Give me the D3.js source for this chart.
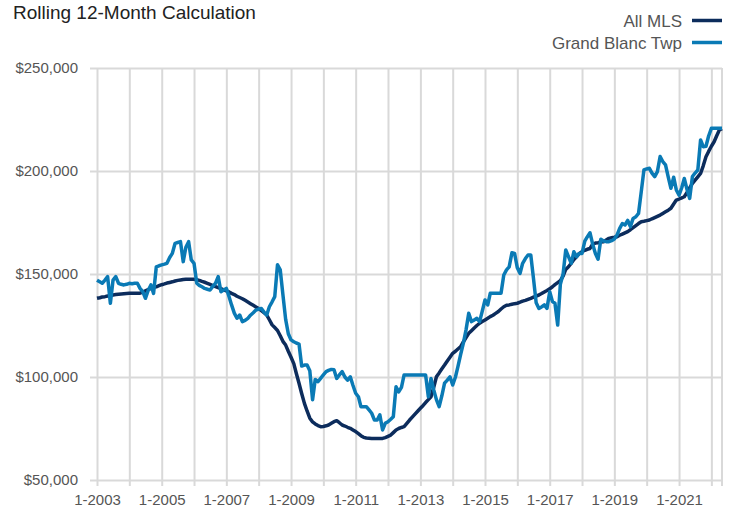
<!DOCTYPE html>
<html>
<head>
<meta charset="utf-8">
<script src="https://cdn.jsdelivr.net/npm/d3@7"></script>
<style>
  body { margin: 0; background: #fff; }
  svg { display: block; font-family: 'Liberation Sans', Arial, sans-serif; }
</style>
</head>
<body>
<svg></svg>
<script>
// monthly values in $ thousands, Jan 2003 .. May 2022
const startYear = 2003

const allMls = [
  138.2, 138.5, 138.8, 139, 139.3, 139.5, 139.8, 140, 140.2, 140.3, 140.4, 140.5,
  140.6, 140.6, 140.6, 140.6, 140.7, 141.2, 141.8, 142.4, 143, 143.5, 143.8, 144.3,
  144.8, 145.2, 145.6, 145.9, 146.2, 146.6, 146.9, 147.1, 147.3, 147.4, 147.4, 147.4,
  147.4, 147.2, 146.9, 146.4, 146, 145.5, 145, 144.4, 143.9, 143.4, 142.9, 142.3,
  141.8, 141.3, 140.6, 140, 139.2, 138.6, 138, 137.2, 136.4, 135.6, 134.8, 134,
  133.2, 132.2, 131.2, 130.1, 127.8, 125.3, 124, 122.6, 120, 117.3, 115.5, 112.5,
  109.6, 106.5, 101.8, 97, 92, 87.2, 83.5, 80, 78.2, 77.2, 76.4, 75.9,
  76, 76.3, 76.7, 77.5, 78.3, 78.8, 77.8, 76.7, 76.2, 75.6, 75.1, 74.3,
  73.5, 72.5, 71.5, 70.7, 70.4, 70.3, 70.2, 70.2, 70.2, 70.2, 70.2, 70.6,
  71.2, 71.8, 73, 74.3, 75, 75.5, 75.9, 77.5, 79.1, 80.5, 82, 83.4,
  84.8, 86.2, 87.6, 89, 90.4, 95, 100.1, 102, 104, 105.8, 107.8, 109.6,
  111.5, 112.5, 113.6, 114.7, 117, 119.1, 121.2, 122.5, 123.8, 125, 126.1, 126.9,
  127.7, 128.5, 129.3, 130, 130.9, 131.8, 133, 134.1, 134.8, 135, 135.3, 135.6,
  135.8, 136.3, 136.8, 137.2, 137.7, 138.2, 138.8, 139.3, 139.8, 140.5, 141.3, 142,
  142.8, 143.8, 144.8, 145.8, 146.8, 149, 152.2, 153.5, 155.2, 157, 158.5, 160,
  160.8, 161.5, 162, 162.4, 164.5, 165, 165.2, 165.5, 165.7, 166.5, 167.3, 167.6,
  167.8, 168.1, 168.8, 169.4, 170, 170.6, 171.5, 172.5, 173.5, 174.5, 175.4, 175.6,
  175.9, 176.2, 176.8, 177.4, 178, 178.6, 179.4, 180.2, 181, 181.9, 184, 185.9,
  186.4, 187, 187.5, 189.6, 191.8, 194, 195.6, 197.2, 198.8, 202.5, 206.9, 209.5,
  212, 214.2, 217, 219.9, 220.5
]

const grandBlanc = [
  147, 146.2, 145.5, 147, 148.7, 135.8, 147, 148.7, 145.5, 145, 144.7, 145,
  145.5, 145.3, 145.5, 145.5, 143, 141.4, 138.2, 142, 144.7, 140.6, 153.5, 154,
  154.4, 154.8, 155.2, 158, 160, 164.9, 165.3, 165.7, 156, 163, 165.7, 156.8,
  155.2, 145.5, 144.5, 143.8, 143, 142.6, 142.2, 144, 145.5, 148.7, 141.4, 142.2,
  143, 139, 135, 131, 128.5, 130.1, 126.9, 127.5, 128.5, 130, 131.2, 132.5,
  133, 133.3, 131.5, 130.1, 134.1, 136.5, 139, 154.5, 152, 140, 128, 121,
  118, 117.1, 116.5, 116, 105.3, 105.8, 105.8, 103, 89, 98.8, 97.7, 99.3,
  101, 102.6, 103.2, 103.7, 103.5, 99.3, 101, 102.6, 100, 98.5, 100.1, 96,
  92.1, 90.4, 85.6, 85.6, 85.6, 84, 82.4, 79.1, 79.1, 81.6, 74.3, 77.5,
  78.3, 79.5, 80.7, 95.3, 92.8, 95, 101, 101, 101, 101, 101, 101,
  101, 101, 101, 90.4, 99.3, 93.7, 89, 85.6, 91, 97, 98.5, 100.1,
  96.1, 100, 105, 111, 116.3, 123, 130.9, 126.9, 127.7, 128.5, 126.9, 132,
  137.4, 135, 140.6, 140.6, 140.6, 140.6, 140.6, 149.5, 152, 153.5, 160.3, 160,
  153, 150.3, 155.2, 157.5, 159.2, 159.2, 148, 136, 133.3, 134, 135, 133.3,
  141.4, 136.6, 135.8, 125.2, 145, 150, 161.7, 158.4, 155.2, 160.8, 158.4, 160,
  160, 166, 168, 170, 164.5, 160, 157.2, 166.9, 166, 165.7, 165.7, 166.2,
  167, 169, 172, 174.5, 173.8, 176, 173, 177, 177.8, 179.4, 190, 200.5,
  201, 201.3, 199, 197.3, 199.7, 207, 204.6, 203, 197, 191.6, 197, 190.8,
  188.3, 192, 196.4, 191, 186.7, 197.3, 199, 200.5, 215.1, 211.8, 212, 217,
  220.7, 220.7, 220.7, 220.7, 220.7
]

const seriesNames = ['All MLS', 'Grand Blanc Twp']
const seriesColors = ['#0c2c5c', '#0a7ab5']
const yTicks = [50, 100, 150, 200, 250]

window.onload = init

function init() {
  const width = 732
  const height = 515
  const left = 97
  const right = 722
  const top = 68
  const bottom = 480

  const svg = d3.select('svg')
    .attr('width', width)
    .attr('height', height)

  const dates = allMls.map((d, i) => new Date(startYear, i, 1))

  const x = d3.scaleTime()
    .domain([dates[0], dates[dates.length - 1]])
    .range([left, right])

  const y = d3.scaleLinear()
    .domain([50, 250])
    .range([bottom, top])

  const years = d3.timeYear.range(new Date(startYear, 0, 1), dates[dates.length - 1])

  // horizontal grid + y labels
  const yAxis = d3.axisLeft(y)
    .tickValues(yTicks)
    .tickSize(0)
    .tickPadding(19)
    .tickFormat(d => '$' + d3.format(',')(d * 1000))

  const yg = svg.append('g')
    .attr('transform', `translate(${left}, 0)`)
    .call(yAxis)
  yg.select('.domain').remove()
  yg.selectAll('.tick line')
    .attr('x1', -7)
    .attr('x2', right - left)
    .attr('stroke', '#d9d9d9')
    .attr('stroke-width', 2)
  yg.selectAll('text')
    .attr('fill', '#555')
    .style('font-size', '15px')
    .style('font-family', "'Liberation Sans', Arial, sans-serif")

  // vertical grid + x labels
  const xAxis = d3.axisBottom(x)
    .tickValues(years)
    .tickSize(0)
    .tickPadding(14)
    .tickFormat(d => (d.getFullYear() - startYear) % 2 === 0 ? '1-' + d.getFullYear() : '')

  const xg = svg.append('g')
    .attr('transform', `translate(0, ${bottom})`)
    .call(xAxis)
  xg.select('.domain').remove()
  xg.selectAll('.tick line')
    .attr('y1', top - bottom)
    .attr('y2', 6)
    .attr('stroke', '#d9d9d9')
    .attr('stroke-width', 2)
  xg.append('line')
    .attr('x1', right)
    .attr('x2', right)
    .attr('y1', top - bottom)
    .attr('y2', 6)
    .attr('stroke', '#d9d9d9')
    .attr('stroke-width', 2)
  xg.selectAll('text')
    .attr('fill', '#555')
    .style('font-size', '15px')
    .style('font-family', "'Liberation Sans', Arial, sans-serif")

  // lines
  const line = d3.line()
    .x((d, i) => x(dates[i]))
    .y(d => y(d))

  svg.append('g')
    .selectAll('path')
    .data([allMls, grandBlanc])
    .enter()
    .append('path')
    .attr('d', line)
    .attr('fill', 'none')
    .attr('stroke', (d, i) => seriesColors[i])
    .attr('stroke-width', 3.5)
    .attr('stroke-linejoin', 'round')

  // title
  svg.append('text')
    .attr('x', 13)
    .attr('y', 18.5)
    .attr('fill', '#222')
    .style('font-size', '19px')
    .text('Rolling 12-Month Calculation')

  // legend
  const legend = svg.append('g')
    .selectAll('g')
    .data(seriesNames)
    .enter()
    .append('g')
    .attr('transform', (d, i) => `translate(0, ${20.5 + i * 22})`)

  legend.append('line')
    .attr('x1', 692)
    .attr('x2', 722)
    .attr('stroke', (d, i) => seriesColors[i])
    .attr('stroke-width', 3.5)

  legend.append('text')
    .attr('x', 682)
    .attr('y', 6)
    .attr('text-anchor', 'end')
    .attr('fill', '#555')
    .style('font-size', '17px')
    .text(d => d)
}
</script>
</body>
</html>
